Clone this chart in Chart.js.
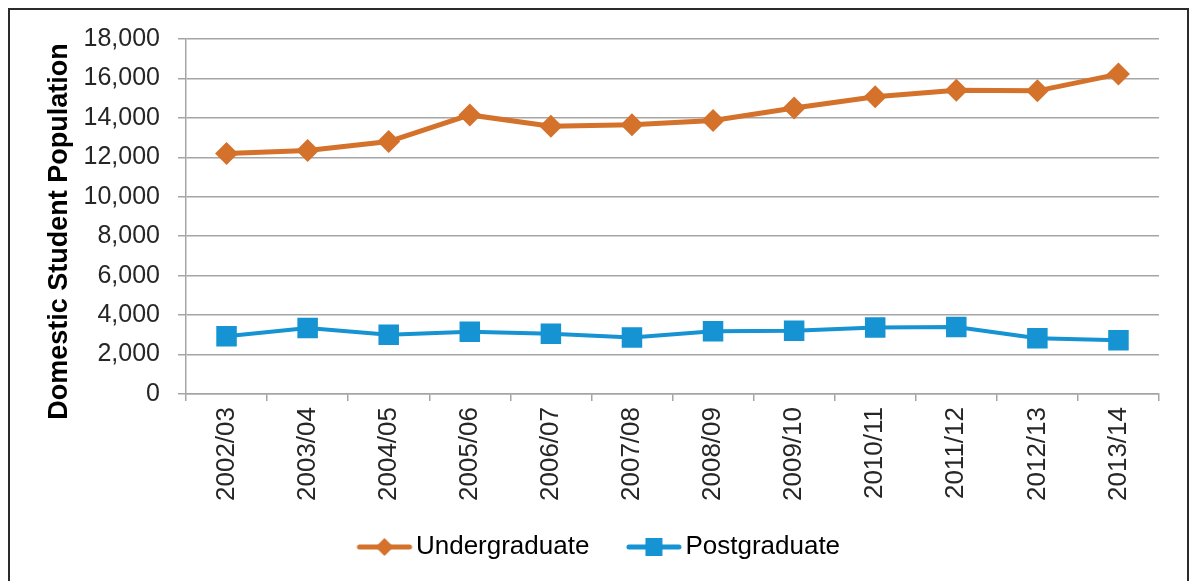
<!DOCTYPE html>
<html>
<head>
<meta charset="utf-8">
<script src="https://cdn.jsdelivr.net/npm/chart.js@4"></script>
<style>
  html, body { margin: 0; padding: 0; background: #fff; }
  canvas { display: block; }
</style>
</head>
<body>
<canvas id="grafico" width="1193" height="581"></canvas>
<script>
  const anos = ['2002/03', '2003/04', '2004/05', '2005/06', '2006/07', '2007/08',
                '2008/09', '2009/10', '2010/11', '2011/12', '2012/13', '2013/14'];
  const undergraduate = [12200, 12350, 12800, 14150, 13580, 13650, 13870, 14500, 15070, 15400, 15370, 16220];
  const postgraduate = [2930, 3350, 3010, 3160, 3060, 2860, 3180, 3210, 3370, 3400, 2830, 2720];
  const yTicks = [0, 2000, 4000, 6000, 8000, 10000, 12000, 14000, 16000, 18000];

  const laranja = '#D4712A';
  const azul = '#1593D2';
  const cinza = '#A5A5A5';
  const texto = '#262626';
  const fonte = '"Liberation Sans", Arial, sans-serif';

  // legend marker: short line with the point symbol in the middle
  // (drawn off-centre inside a wider image so the text sits right next to it)
  function marcador(cor, tipo) {
    const c = document.createElement('canvas');
    c.width = 84; c.height = 24;
    const g = c.getContext('2d');
    g.strokeStyle = cor; g.fillStyle = cor;
    g.lineWidth = 5; g.lineCap = 'round';
    g.beginPath(); g.moveTo(30, 12); g.lineTo(80, 12); g.stroke();
    g.beginPath();
    if (tipo === 'diamond') {
      g.moveTo(55, 3); g.lineTo(64, 12); g.lineTo(55, 21); g.lineTo(46, 12);
    } else {
      g.rect(46.5, 3, 17, 18);
    }
    g.closePath(); g.fill();
    return c;
  }
  const marcadores = [marcador(laranja, 'diamond'), marcador(azul, 'square')];

  const moldura = {
    id: 'moldura',
    beforeDraw(chart) {
      const ctx = chart.ctx;
      ctx.save();
      ctx.strokeStyle = '#2b2b2b';
      ctx.lineWidth = 2;
      ctx.strokeRect(9, 9, 1179, 620);
      ctx.restore();
    }
  };

  new Chart(document.getElementById('grafico').getContext('2d'), {
    type: 'line',
    data: {
      labels: anos,
      datasets: [
        {
          label: 'Undergraduate', data: undergraduate,
          borderColor: laranja, backgroundColor: laranja, borderWidth: 5,
          pointStyle: 'rectRot', pointRadius: 11.5, pointBorderWidth: 0,
          pointBackgroundColor: laranja, tension: 0
        },
        {
          label: 'Postgraduate', data: postgraduate,
          borderColor: azul, backgroundColor: azul, borderWidth: 4,
          pointStyle: 'rect', pointRadius: 14.5, pointBorderWidth: 0,
          pointBackgroundColor: azul, tension: 0
        }
      ]
    },
    options: {
      responsive: false,
      devicePixelRatio: 1,
      animation: false,
      layout: { padding: { left: 21, right: 34, top: 39, bottom: 11 } },
      plugins: {
        tooltip: { enabled: false },
        legend: {
          position: 'bottom',
          labels: {
            font: { family: fonte, size: 26 },
            color: texto,
            usePointStyle: true,
            pointStyleWidth: 63,
            padding: 20,
            generateLabels: chart => chart.data.datasets.map((d, i) => ({
              text: d.label,
              pointStyle: marcadores[i],
              fillStyle: d.borderColor,
              strokeStyle: d.borderColor,
              lineWidth: 0,
              hidden: false,
              datasetIndex: i
            }))
          }
        }
      },
      scales: {
        x: {
          offset: true,
          grid: { offset: true, drawOnChartArea: false, drawTicks: true, tickLength: 7, color: cinza, lineWidth: 1.5 },
          border: { color: cinza, width: 1.5 },
          ticks: { font: { family: fonte, size: 26 }, color: texto, minRotation: 90, maxRotation: 90, padding: 6 },
          afterFit: s => { s.height = 120; }
        },
        y: {
          min: 0, max: 18000,
          afterBuildTicks: s => { s.ticks = yTicks.map(v => ({ value: v })); },
          grid: { color: cinza, lineWidth: 1.5, drawTicks: true, tickLength: 8 },
          border: { color: cinza, width: 1.5 },
          ticks: {
            font: { family: fonte, size: 25 }, color: texto, padding: 18,
            callback: v => Number(v).toLocaleString('en-US')
          },
          title: {
            display: true, text: 'Domestic Student Population    ',
            font: { family: fonte, size: 27, weight: 'bold' }, color: '#000',
            padding: { top: 22, bottom: 4 }
          },
          afterFit: s => { s.width = 165; }
        }
      }
    },
    plugins: [moldura]
  });
</script>
</body>
</html>
